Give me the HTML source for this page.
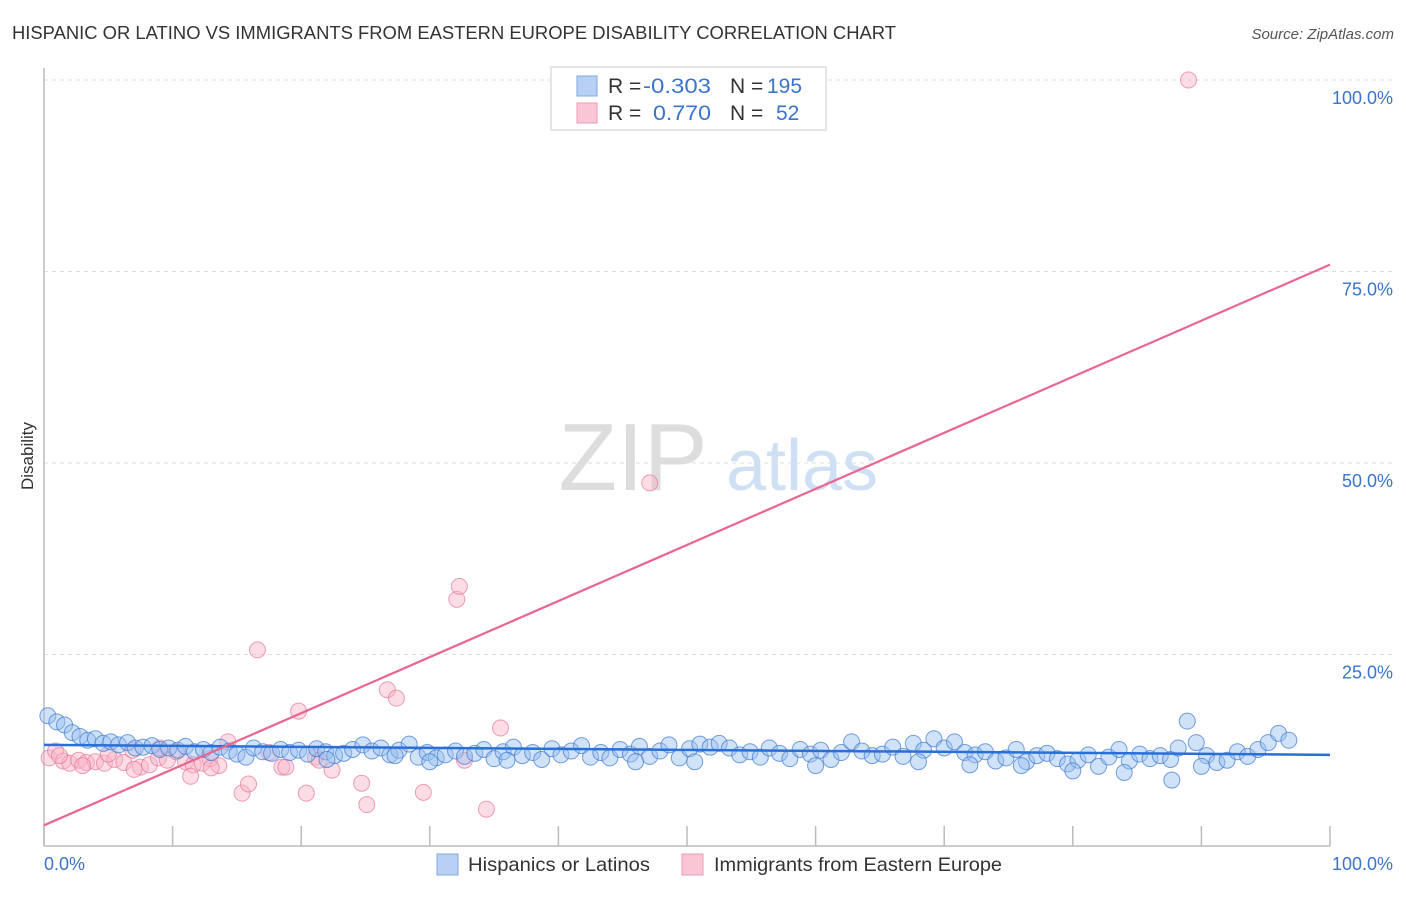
<!DOCTYPE html>
<html><head><meta charset="utf-8">
<style>
body{margin:0;background:#fff;font-family:"Liberation Sans",sans-serif;}
svg text{font-family:"Liberation Sans",sans-serif;}
</style></head>
<body>
<svg id="chart" width="1406" height="892" viewBox="0 0 1406 892" xmlns="http://www.w3.org/2000/svg">
<text x="12" y="39" font-size="18" fill="#333" textLength="884" lengthAdjust="spacingAndGlyphs">HISPANIC OR LATINO VS IMMIGRANTS FROM EASTERN EUROPE DISABILITY CORRELATION CHART</text>
<text x="1394" y="39" font-size="15" fill="#555" text-anchor="end" font-style="italic">Source: ZipAtlas.com</text>
<text transform="translate(33,456) rotate(-90)" font-size="17" fill="#333" text-anchor="middle">Disability</text>
<g>
<text x="633" y="490" font-size="96" fill="#ddd" text-anchor="middle" font-family="Liberation Serif">ZIP</text>
<text x="802" y="490" font-size="72" fill="#cfe0f5" text-anchor="middle">atlas</text>
</g>
<g id="grid"></g>
<g id="axes"></g>
<g id="points"></g>
<g id="trends"></g>
<g>
<rect x="551" y="67" width="275" height="63" fill="#fff" stroke="#ddd" stroke-width="1.5"/>
<rect x="577" y="76" width="20" height="20" fill="#b8d0f4" stroke="#7fa7e0"/>
<rect x="577" y="103" width="20" height="20" fill="#fac6d6" stroke="#ee99b2"/>
<text x="608" y="93" font-size="21" fill="#333">R = </text>
<text x="643" y="93" font-size="21" fill="#3a74cc" textLength="68" lengthAdjust="spacingAndGlyphs">-0.303</text>
<text x="730" y="93" font-size="21" fill="#333">N = </text>
<text x="767" y="93" font-size="21" fill="#3a74cc">195</text>
<text x="608" y="120" font-size="21" fill="#333">R = </text>
<text x="653" y="120" font-size="21" fill="#3a74cc" textLength="58" lengthAdjust="spacingAndGlyphs">0.770</text>
<text x="730" y="120" font-size="21" fill="#333">N = </text>
<text x="776" y="120" font-size="21" fill="#3a74cc">52</text>
</g>
<g>
<rect x="437" y="854" width="21" height="21" fill="#b8d0f4" stroke="#7fa7e0"/>
<text x="468" y="871" font-size="19.5" fill="#333" textLength="182" lengthAdjust="spacingAndGlyphs">Hispanics or Latinos</text>
<rect x="682" y="854" width="21" height="21" fill="#fac6d6" stroke="#ee99b2"/>
<text x="714" y="871" font-size="19.5" fill="#333" textLength="288" lengthAdjust="spacingAndGlyphs">Immigrants from Eastern Europe</text>
</g>
</svg>
<script>
const yTicks=[25,50,75,100];
const yTickLabels=["25.0%","50.0%","75.0%","100.0%"];
const xTicks=[0,10,20,30,40,50,60,70,80,90,100];
const blueX=[0.3,1.0,1.6,2.2,2.8,3.4,4.0,4.6,5.2,5.8,6.5,7.1,7.7,8.4,9.0,9.7,10.4,11.0,11.7,12.4,13.0,13.7,14.4,15.0,15.7,16.3,17.0,17.7,18.4,19.1,19.8,20.5,21.2,21.9,22.6,23.3,24.0,24.8,25.5,26.2,26.9,27.6,28.4,29.1,29.8,30.5,31.2,32.0,32.7,33.5,34.2,35.0,35.7,36.5,37.2,38.0,38.7,39.5,40.2,41.0,41.8,42.5,43.3,44.0,44.8,45.6,46.3,47.1,47.9,48.6,49.4,50.2,51.0,51.8,52.5,53.3,54.1,54.9,55.7,56.4,57.2,58.0,58.8,59.6,60.4,61.2,62.0,62.8,63.6,64.4,65.2,66.0,66.8,67.6,68.4,69.2,70.0,70.8,71.6,72.4,73.2,74.0,74.8,75.6,76.4,77.2,78.0,78.8,79.6,80.4,81.2,82.0,82.8,83.6,84.4,85.2,86.0,86.8,87.6,88.2,88.9,89.6,90.4,91.2,92.0,92.8,93.6,94.4,95.2,96.0,96.8,87.7,50.6,60.0,46.0,36.0,27.3,22.0,30.0,68.0,72.0,76.0,80.0,84.0,90.0];
const blueY=[17.0,16.2,15.8,14.8,14.3,13.8,14.0,13.4,13.6,13.2,13.5,12.8,12.9,13.1,12.6,12.8,12.5,13.0,12.3,12.6,12.2,12.9,12.4,12.0,11.6,12.8,12.3,12.1,12.6,12.2,12.5,12.0,12.7,12.3,11.8,12.1,12.6,13.2,12.4,12.8,11.9,12.5,13.3,11.6,12.2,11.5,11.9,12.4,11.7,12.1,12.6,11.4,12.3,12.9,11.8,12.2,11.3,12.7,11.9,12.4,13.1,11.6,12.2,11.5,12.6,12.0,13.0,11.7,12.4,13.2,11.5,12.7,13.3,12.9,13.4,12.8,11.9,12.3,11.6,12.8,12.1,11.4,12.6,12.0,12.5,11.3,12.2,13.6,12.4,11.8,12.0,12.9,11.7,13.4,12.5,14.0,12.8,13.6,12.2,11.9,12.3,11.1,11.5,12.6,11.0,11.8,12.1,11.4,10.7,11.2,11.9,10.4,11.6,12.6,11.1,12.0,11.4,11.8,11.3,12.8,16.3,13.5,11.8,10.9,11.2,12.3,11.7,12.6,13.5,14.7,13.8,8.6,11.0,10.5,11.0,11.2,11.8,11.3,11.0,11.0,10.6,10.5,9.8,9.6,10.4];
const pinkX=[0.4,0.9,1.5,2.0,2.7,3.3,4.0,4.7,5.5,6.2,6.9,7.5,8.2,8.9,9.6,10.3,11.0,11.6,12.3,12.9,13.6,14.3,11.4,15.4,15.9,16.6,18.5,18.8,19.8,20.4,21.1,21.4,22.4,24.7,25.1,26.7,27.4,29.5,32.1,32.3,32.7,34.4,35.5,47.1,89.0,13.0,9.0,7.0,5.0,3.0,1.2,17.5];
const pinkY=[11.5,12.4,11.1,10.8,11.2,10.9,11.0,10.8,11.3,10.9,12.5,10.3,10.6,11.5,11.2,12.3,11.0,10.6,10.8,11.4,10.5,13.6,9.1,6.9,8.1,25.6,10.3,10.3,17.6,6.9,11.6,11.2,9.9,8.2,5.4,20.4,19.3,7.0,32.2,33.9,11.2,4.8,15.4,47.4,100,10.2,12.8,10.0,12.0,10.5,11.8,12.2];
const blueTrend=[13.2,11.9];
const pinkTrend=[2.7,75.9];
const NS="http://www.w3.org/2000/svg";
const X0=44,X1=1330,Y0=846,Y100=80;
function sx(v){return X0+(X1-X0)*v/100;}
function sy(v){return Y0-(Y0-Y100)*v/100;}
function mk(tag,attrs,parent){const e=document.createElementNS(NS,tag);for(const k in attrs)e.setAttribute(k,attrs[k]);parent.appendChild(e);return e;}
const grid=document.getElementById('grid'),axes=document.getElementById('axes'),pts=document.getElementById('points'),tr=document.getElementById('trends');
yTicks.forEach((t,i)=>{
  const l=mk('line',{x1:X0,x2:1394,y1:sy(t),y2:sy(t),stroke:'#ddd','stroke-dasharray':'4,4'},grid);
  
  
  const tx=mk('text',{x:1393,y:sy(t)+24,'font-size':18,fill:'#3a74cc','text-anchor':'end'},axes);
  tx.textContent=yTickLabels[i];
  
  
});
const ya=mk('line',{x1:X0,x2:X0,y1:68,y2:Y0,stroke:'#bbb','stroke-width':1.5},axes);


const xa=mk('line',{x1:X0,x2:X1,y1:Y0,y2:Y0,stroke:'#bbb','stroke-width':1.5},axes);


xTicks.forEach(t=>{
  const l=mk('line',{x1:sx(t),x2:sx(t),y1:826,y2:Y0,stroke:'#bbb','stroke-width':1.5},axes);
  
  
});
const xl0=mk('text',{x:44,y:870,'font-size':18,fill:'#3a74cc'},axes);xl0.textContent='0.0%';


const xl1=mk('text',{x:1393,y:870,'font-size':18,fill:'#3a74cc','text-anchor':'end'},axes);xl1.textContent='100.0%';


pinkX.forEach((v,i)=>{
  const c=mk('circle',{cx:sx(v),cy:sy(pinkY[i]),r:8,fill:'rgba(248,180,200,0.45)',stroke:'rgba(230,120,155,0.7)','stroke-width':1},pts);
  
  
});
blueX.forEach((v,i)=>{
  const c=mk('circle',{cx:sx(v),cy:sy(blueY[i]),r:8,fill:'rgba(150,190,240,0.45)',stroke:'rgba(60,120,210,0.7)','stroke-width':1},pts);
  
  
});
const bt=mk('line',{x1:sx(0),x2:sx(100),y1:sy(blueTrend[0]),y2:sy(blueTrend[1]),stroke:'#2a6fd6','stroke-width':2.5},tr);


const pt=mk('line',{x1:sx(0),x2:sx(100),y1:sy(pinkTrend[0]),y2:sy(pinkTrend[1]),stroke:'#e8668f','stroke-width':2.2},tr);


</script>
</body></html>
